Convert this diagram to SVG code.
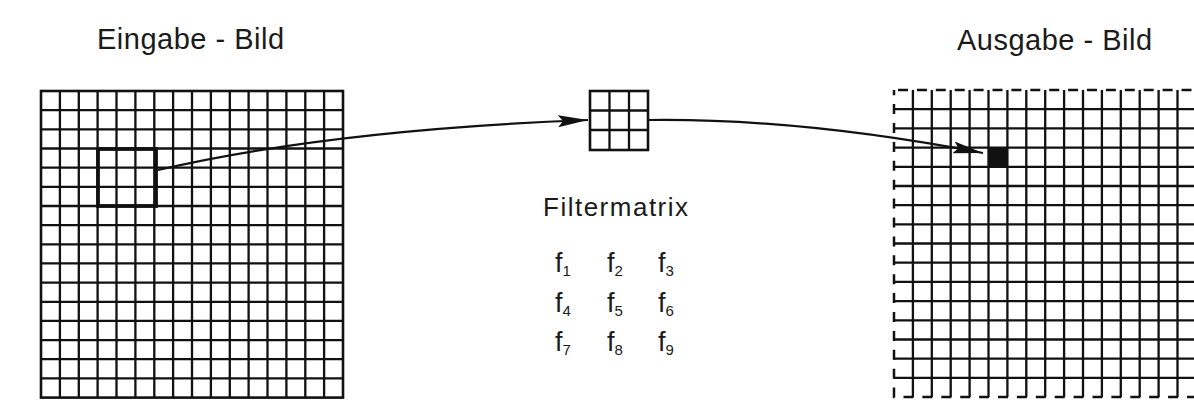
<svg xmlns="http://www.w3.org/2000/svg" width="1194" height="408" viewBox="0 0 1194 408">
<style>
.t{font-family:"Liberation Sans",Arial,sans-serif;fill:#1a1a1a}
.title{font-size:29px;letter-spacing:0.5px}
.fm{font-size:26px;letter-spacing:1.5px}
.f{font-size:27px}
.s{font-size:15px}
.grid{fill:none;stroke:#111;stroke-width:2.3}
.frame{fill:none;stroke:#111;stroke-width:2.6}
.dash{fill:none;stroke:#111;stroke-width:2.5;stroke-dasharray:10 8.9;stroke-dashoffset:-4}
.conn{fill:none;stroke:#111;stroke-width:2.2}
</style>
<defs>
<marker id="ah" markerUnits="userSpaceOnUse" markerWidth="32" markerHeight="14" refX="30" refY="7" orient="auto">
<path d="M0,1 L30,7 L0,13 L5,7 Z" fill="#111"/>
</marker>
</defs>
<rect width="1194" height="408" fill="#fff"/>
<g id="labels">
<text class="t title" x="97" y="49">Eingabe - Bild</text>
<text class="t title" x="957" y="50">Ausgabe - Bild</text>
</g>
<g id="input-image">
<path class="grid" d="M59.9,91V397.6M78.8,91V397.6M97.6,91V397.6M116.5,91V397.6M135.4,91V397.6M154.3,91V397.6M173.1,91V397.6M192,91V397.6M210.9,91V397.6M229.8,91V397.6M248.6,91V397.6M267.5,91V397.6M286.4,91V397.6M305.3,91V397.6M324.1,91V397.6M41,110.2H343M41,129.3H343M41,148.5H343M41,167.6H343M41,186.8H343M41,206H343M41,225.1H343M41,244.3H343M41,263.4H343M41,282.6H343M41,301.8H343M41,320.9H343M41,340.1H343M41,359.2H343M41,378.4H343"/>
<rect class="frame" x="41" y="91" width="302" height="306.6"/>
<rect x="98" y="149" width="58" height="57" fill="none" stroke="#111" stroke-width="3.8"/>
</g>
<g id="filter-matrix">
<path class="grid" d="M609.5,91V150M629,91V150M590,110.5H648M590,130H648"/>
<rect class="frame" x="590" y="91" width="58" height="59"/>
<text class="t fm" x="543" y="216">Filtermatrix</text>
<g class="t">
<text class="f" x="555" y="272">f<tspan class="s" dy="4">1</tspan></text>
<text class="f" x="607" y="272">f<tspan class="s" dy="4">2</tspan></text>
<text class="f" x="658" y="272">f<tspan class="s" dy="4">3</tspan></text>
<text class="f" x="555" y="312">f<tspan class="s" dy="4">4</tspan></text>
<text class="f" x="607" y="312">f<tspan class="s" dy="4">5</tspan></text>
<text class="f" x="658" y="312">f<tspan class="s" dy="4">6</tspan></text>
<text class="f" x="555" y="351">f<tspan class="s" dy="4">7</tspan></text>
<text class="f" x="607" y="351">f<tspan class="s" dy="4">8</tspan></text>
<text class="f" x="658" y="351">f<tspan class="s" dy="4">9</tspan></text>
</g>
</g>
<g id="output-image">
<path class="grid" d="M912.9,90V397M931.8,90V397M950.7,90V397M969.6,90V397M988.5,90V397M1007.4,90V397M1026.3,90V397M1045.2,90V397M1064.1,90V397M1083,90V397M1101.9,90V397M1120.8,90V397M1139.7,90V397M1158.6,90V397M1177.5,90V397M894,109.2H1196M894,128.4H1196M894,147.6H1196M894,166.8H1196M894,186H1196M894,205.1H1196M894,224.3H1196M894,243.5H1196M894,262.7H1196M894,281.9H1196M894,301.1H1196M894,320.3H1196M894,339.5H1196M894,358.7H1196M894,377.9H1196"/>
<rect class="dash" x="894" y="90" width="302.4" height="307"/>
<rect x="989" y="148" width="18" height="19" fill="#111"/>
</g>
<g id="connectors">
<path class="conn" d="M158,170 Q330,130 588,120" marker-end="url(#ah)"/>
<path class="conn" d="M648,120 Q800,118 983,153" marker-end="url(#ah)"/>
</g>
</svg>
